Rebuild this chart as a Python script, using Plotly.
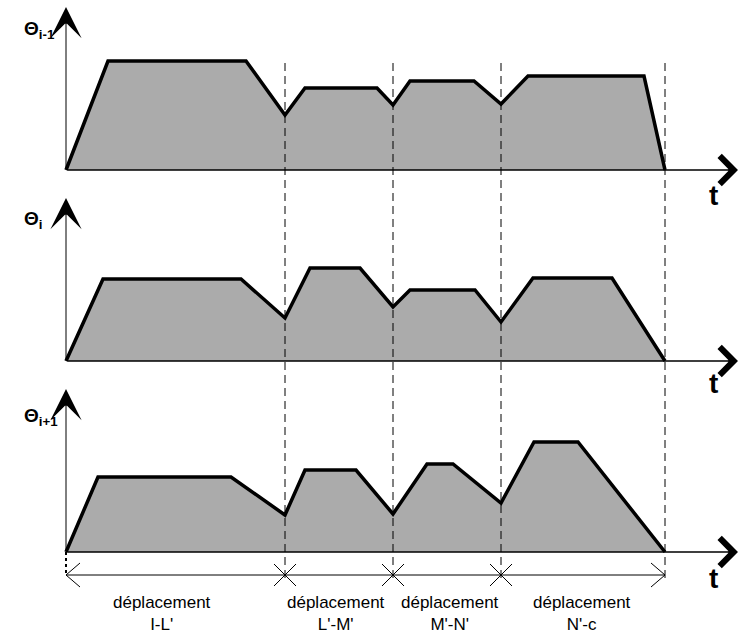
import plotly.graph_objects as go

# corner points of the three speed profiles (time in arbitrary units)
t_prev = [0, 4.2, 18.0, 21.9, 23.9, 31.1, 32.7, 34.4, 40.8, 43.5, 46.2, 57.8, 59.9]
v_prev = [0, 10.9, 10.9, 5.5, 8.2, 8.2, 6.5, 8.9, 8.9, 6.6, 9.4, 9.4, 0]
t_cur = [0, 3.7, 17.5, 21.9, 24.4, 29.4, 32.7, 34.4, 40.9, 43.5, 46.7, 54.6, 59.9]
v_cur = [0, 8.2, 8.2, 4.3, 9.3, 9.3, 5.4, 7.1, 7.1, 3.9, 8.3, 8.3, 0]
t_next = [0, 3.2, 16.5, 21.9, 23.9, 29.0, 32.7, 36.1, 38.7, 43.5, 46.8, 51.2, 59.9]
v_next = [0, 7.5, 7.5, 3.7, 8.2, 8.2, 3.8, 8.8, 8.8, 4.9, 11.0, 11.0, 0]

bounds = [21.9, 32.7, 43.5, 59.9]
seg_labels = ["déplacement<br>I-L'", "déplacement<br>L'-M'",
              "déplacement<br>M'-N'", "déplacement<br>N'-c"]
seg_label_t = [9.6, 27.0, 38.4, 51.6]
theta_labels = ["Θ<sub>i-1</sub>", "Θ<sub>i</sub>", "Θ<sub>i+1</sub>"]

FONT = "Liberation Sans, Arial, sans-serif"
FILL = "#ababab"
T_MAX = 67.2   # tip of the time axis arrows
V_TOP = 16.3   # tip of the vertical arrows
DIM_Y = -2.3   # dimension line under the last panel

panels = [(t_prev, v_prev, "y"), (t_cur, v_cur, "y2"), (t_next, v_next, "y3")]

fig = go.Figure()
for t, v, ya in panels:
    fig.add_trace(go.Scatter(x=t, y=v, yaxis=ya, mode="lines", fill="toself",
                             fillcolor=FILL, line=dict(width=0), hoverinfo="skip"))
    fig.add_trace(go.Scatter(x=t, y=v, yaxis=ya, mode="lines",
                             line=dict(color="black", width=3.5), hoverinfo="skip"))

# dimension line with crosses at the boundaries
fig.add_trace(go.Scatter(x=[0, bounds[-1]], y=[DIM_Y, DIM_Y], yaxis="y3", mode="lines",
                         line=dict(color="black", width=1), hoverinfo="skip"))
fig.add_trace(go.Scatter(x=bounds[:-1], y=[DIM_Y] * 3, yaxis="y3", mode="markers",
                         marker=dict(symbol="x-thin", size=22,
                                     line=dict(color="black", width=1)),
                         hoverinfo="skip"))
# end chevrons
for end, d in [(0, 1), (bounds[-1], -1)]:
    fig.add_trace(go.Scatter(x=[end + d * 1.4, end, end + d * 1.4],
                             y=[DIM_Y + 1.2, DIM_Y, DIM_Y - 1.2], yaxis="y3",
                             mode="lines", line=dict(color="black", width=1),
                             hoverinfo="skip"))

shapes = []
for b in bounds:
    shapes.append(dict(type="line", xref="x", yref="paper", x0=b, x1=b,
                       y0=1 - 578 / 635, y1=1 - 60 / 635,
                       line=dict(color="black", width=1, dash="8px,5px")))
shapes.append(dict(type="line", xref="x", yref="y3", x0=0, x1=0, y0=0, y1=DIM_Y,
                   line=dict(color="black", width=2, dash="dot")))

annotations = []
t_label_y = [-2.5, -2.2, -2.6]
theta_y = [14.0, 14.1, 13.5]
for i, (_, _, ya) in enumerate(panels):
    # vertical axis arrow
    annotations.append(dict(x=0, y=V_TOP, ax=0, ay=0, xref="x", yref=ya,
                            axref="x", ayref=ya, text="", showarrow=True,
                            arrowhead=3, arrowsize=5.2, arrowwidth=1,
                            arrowcolor="black", standoff=0))
    # time axis arrow
    annotations.append(dict(x=T_MAX, y=0, ax=0, ay=0, xref="x", yref=ya,
                            axref="x", ayref=ya, text="", showarrow=True,
                            arrowhead=4, arrowsize=3.6, arrowwidth=1.5,
                            arrowcolor="black", standoff=0))
    annotations.append(dict(x=64.7, y=t_label_y[i], xref="x", yref=ya, text="t",
                            showarrow=False,
                            font=dict(family=FONT, size=28, color="black", weight="bold")))
    annotations.append(dict(x=-4.4, y=theta_y[i], xref="x", yref=ya,
                            text=theta_labels[i], showarrow=False,
                            xanchor="left", yanchor="middle",
                            font=dict(family=FONT, size=19, color="black", weight="bold")))

for lt, lab in zip(seg_label_t, seg_labels):
    annotations.append(dict(x=lt, y=-6.1, xref="x", yref="y3", text=lab,
                            showarrow=False, align="center",
                            font=dict(family=FONT, size=17, color="black")))

hidden = dict(visible=False, showgrid=False, zeroline=False, fixedrange=True)
fig.update_layout(
    width=739, height=635,
    margin=dict(l=0, r=0, t=0, b=0),
    paper_bgcolor="white", plot_bgcolor="white",
    showlegend=False,
    xaxis=dict(range=[-6.6, 67.3], **hidden),
    yaxis=dict(domain=[1 - 200 / 635, 1], range=[-3.0, 17.0], anchor="x", **hidden),
    yaxis2=dict(domain=[1 - 390 / 635, 1 - 190 / 635], range=[-2.9, 17.1],
                anchor="x", **hidden),
    yaxis3=dict(domain=[0, 1 - 380 / 635], range=[-8.3, 17.2], anchor="x", **hidden),
    shapes=shapes,
    annotations=annotations,
)

fig.write_html("out.html", config={"displayModeBar": False},
               post_script="document.body.style.margin='0';")
